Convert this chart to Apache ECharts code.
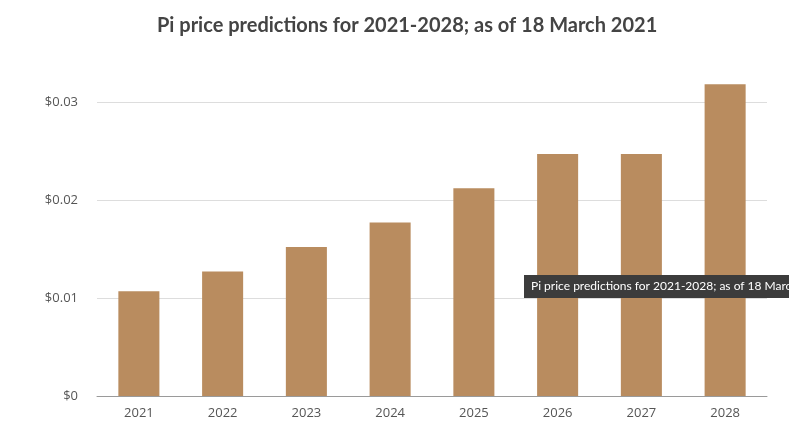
<!DOCTYPE html>
<html>
<head>
<meta charset="utf-8">
<script src="https://cdn.jsdelivr.net/npm/echarts@6/dist/echarts.min.js"></script>
<style>
html,body{margin:0;padding:0;background:#fff;}
#c{width:789px;height:432px;}
</style>
</head>
<body>
<div id="c"></div>
<script>
const titleText = 'Pi price predictions for 2021-2028; as of 18 March 2021';
const categories = ['2021','2022','2023','2024','2025','2026','2027','2028'];
const prices = [0.0107, 0.0127, 0.0152, 0.0177, 0.0212, 0.0247, 0.0247, 0.0318];
const yTicks = [0, 0.01, 0.02, 0.03];

const chart = echarts.init(document.getElementById('c'));
chart.setOption({
  animation: false,
  backgroundColor: '#ffffff',
  title: {
    text: titleText,
    left: 152,
    top: 11,
    textStyle: { fontFamily: 'Lato', fontWeight: 'bold', fontSize: 20, color: '#444444' }
  },
  grid: { left: 97, right: 22, top: 102, bottom: 36 },
  xAxis: {
    type: 'category',
    data: categories,
    axisLine: { lineStyle: { color: '#9a9a9a', width: 1 } },
    axisTick: { show: false },
    axisLabel: { color: '#555555', fontSize: 13, fontFamily: 'Open Sans', margin: 11 }
  },
  yAxis: {
    type: 'value',
    min: yTicks[0],
    max: yTicks[yTicks.length - 1],
    interval: 0.01,
    axisLine: { show: false },
    axisTick: { show: false },
    splitLine: { lineStyle: { color: '#dddddd' } },
    axisLabel: {
      color: '#555555', fontSize: 13, fontFamily: 'Open Sans', margin: 19,
      formatter: v => '$' + (v === 0 ? '0' : v.toFixed(2))
    }
  },
  series: [{
    type: 'bar',
    data: prices,
    barWidth: '49%',
    clip: false,
    itemStyle: { color: '#b98c5f' }
  }],
  graphic: [{
    type: 'group',
    left: 524,
    top: 275,
    z: 100,
    children: [
      { type: 'rect', z: 100, shape: { x: 0, y: 0, width: 300, height: 23 }, style: { fill: '#3c3c3c' } },
      { type: 'text', z: 101, x: 7, y: 5, style: { text: titleText, fill: '#ffffff', fontSize: 12, fontFamily: 'Lato' } }
    ]
  }]
});
</script>
</body>
</html>
